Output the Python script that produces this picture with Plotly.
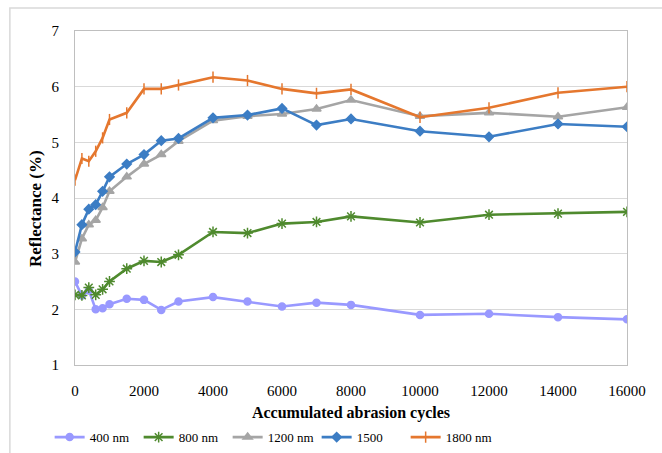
import plotly.graph_objects as go

cycles = [0, 200, 400, 600, 800, 1000, 1500, 2000, 2500, 3000, 4000, 5000, 6000, 7000, 8000, 10000, 12000, 14000, 16000]
r400 = [2.50, 2.25, 2.34, 2.00, 2.02, 2.09, 2.19, 2.17, 1.99, 2.14, 2.22, 2.14, 2.05, 2.12, 2.08, 1.90, 1.92, 1.86, 1.82]
r800 = [2.26, 2.25, 2.39, 2.26, 2.36, 2.50, 2.73, 2.87, 2.85, 2.98, 3.39, 3.37, 3.54, 3.57, 3.67, 3.56, 3.70, 3.72, 3.75]
r1200 = [2.85, 3.27, 3.52, 3.60, 3.83, 4.12, 4.38, 4.61, 4.78, 5.02, 5.39, 5.47, 5.51, 5.60, 5.76, 5.47, 5.53, 5.46, 5.63]
r1500 = [3.03, 3.52, 3.80, 3.88, 4.12, 4.38, 4.61, 4.78, 5.03, 5.07, 5.44, 5.49, 5.61, 5.31, 5.42, 5.20, 5.10, 5.33, 5.28]
r1800 = [4.32, 4.71, 4.66, 4.84, 5.08, 5.41, 5.53, 5.96, 5.96, 6.03, 6.17, 6.11, 5.96, 5.88, 5.95, 5.45, 5.62, 5.89, 6.00]

names = ["400 nm", "800 nm", "1200 nm", "1500", "1800 nm"]
colors = ["#9999FF", "#4F8A2E", "#A5A5A5", "#3C7DC4", "#E5772E"]
symbols = ["circle", "asterisk-open", "triangle-up", "diamond", "line-ns-open"]
sizes = [7, 9, 8, 7, 8]
series = [r400, r800, r1200, r1500, r1800]

font = "Liberation Serif, Times New Roman, serif"

fig = go.Figure()
for n, c, s, sz, ys in zip(names, colors, symbols, sizes, series):
    fig.add_trace(go.Scatter(
        x=cycles, y=ys, name=n, mode="lines+markers",
        line=dict(color=c, width=2.6),
        marker=dict(symbol=s, size=sz, color=c, line=dict(color=c, width=1.5)),
    ))

fig.update_layout(
    width=662, height=453,
    margin=dict(l=75, r=35, t=31, b=88),
    paper_bgcolor="white", plot_bgcolor="white",
    font=dict(family=font, size=15, color="#000000"),
    showlegend=True,
    legend=dict(
        orientation="h", xref="container", x=0.075, xanchor="left",
        yref="container", y=0.035, yanchor="middle",
        font=dict(family=font, size=13, color="#000000"),
        entrywidth=44, entrywidthmode="pixels", itemwidth=30,
        bgcolor="rgba(0,0,0,0)",
    ),
    xaxis=dict(
        range=[0, 16000], dtick=2000, tick0=0, tickformat="d",
        showgrid=False, zeroline=False, automargin=False,
        showline=True, linecolor="#BFBFBF", linewidth=1, mirror=True,
        ticks="", ticklabelstandoff=12,
        tickfont=dict(family=font, size=15),
        title=dict(text="<b>Accumulated abrasion cycles</b>", standoff=16,
                   font=dict(family=font, size=16)),
    ),
    yaxis=dict(
        range=[1, 7], dtick=1, tick0=1, automargin=False,
        showgrid=True, gridcolor="#D9D9D9", gridwidth=1, zeroline=False,
        showline=True, linecolor="#BFBFBF", linewidth=1, mirror=True,
        ticks="", ticklabelstandoff=12,
        tickfont=dict(family=font, size=15),
    ),
    annotations=[dict(text="<b>Reflectance (%)</b>", xref="paper", yref="paper",
                      x=-0.0725, y=0.47, textangle=-90, showarrow=False,
                      xanchor="center", yanchor="middle",
                      font=dict(family=font, size=17, color="#000000"))],
    shapes=[dict(type="rect", xref="paper", yref="paper",
                 x0=-0.118, x1=1.2, y0=-0.4, y1=1.069,
                 line=dict(color="#D9D9D9", width=1.5), layer="below")],
)

fig.write_html("out.html")
